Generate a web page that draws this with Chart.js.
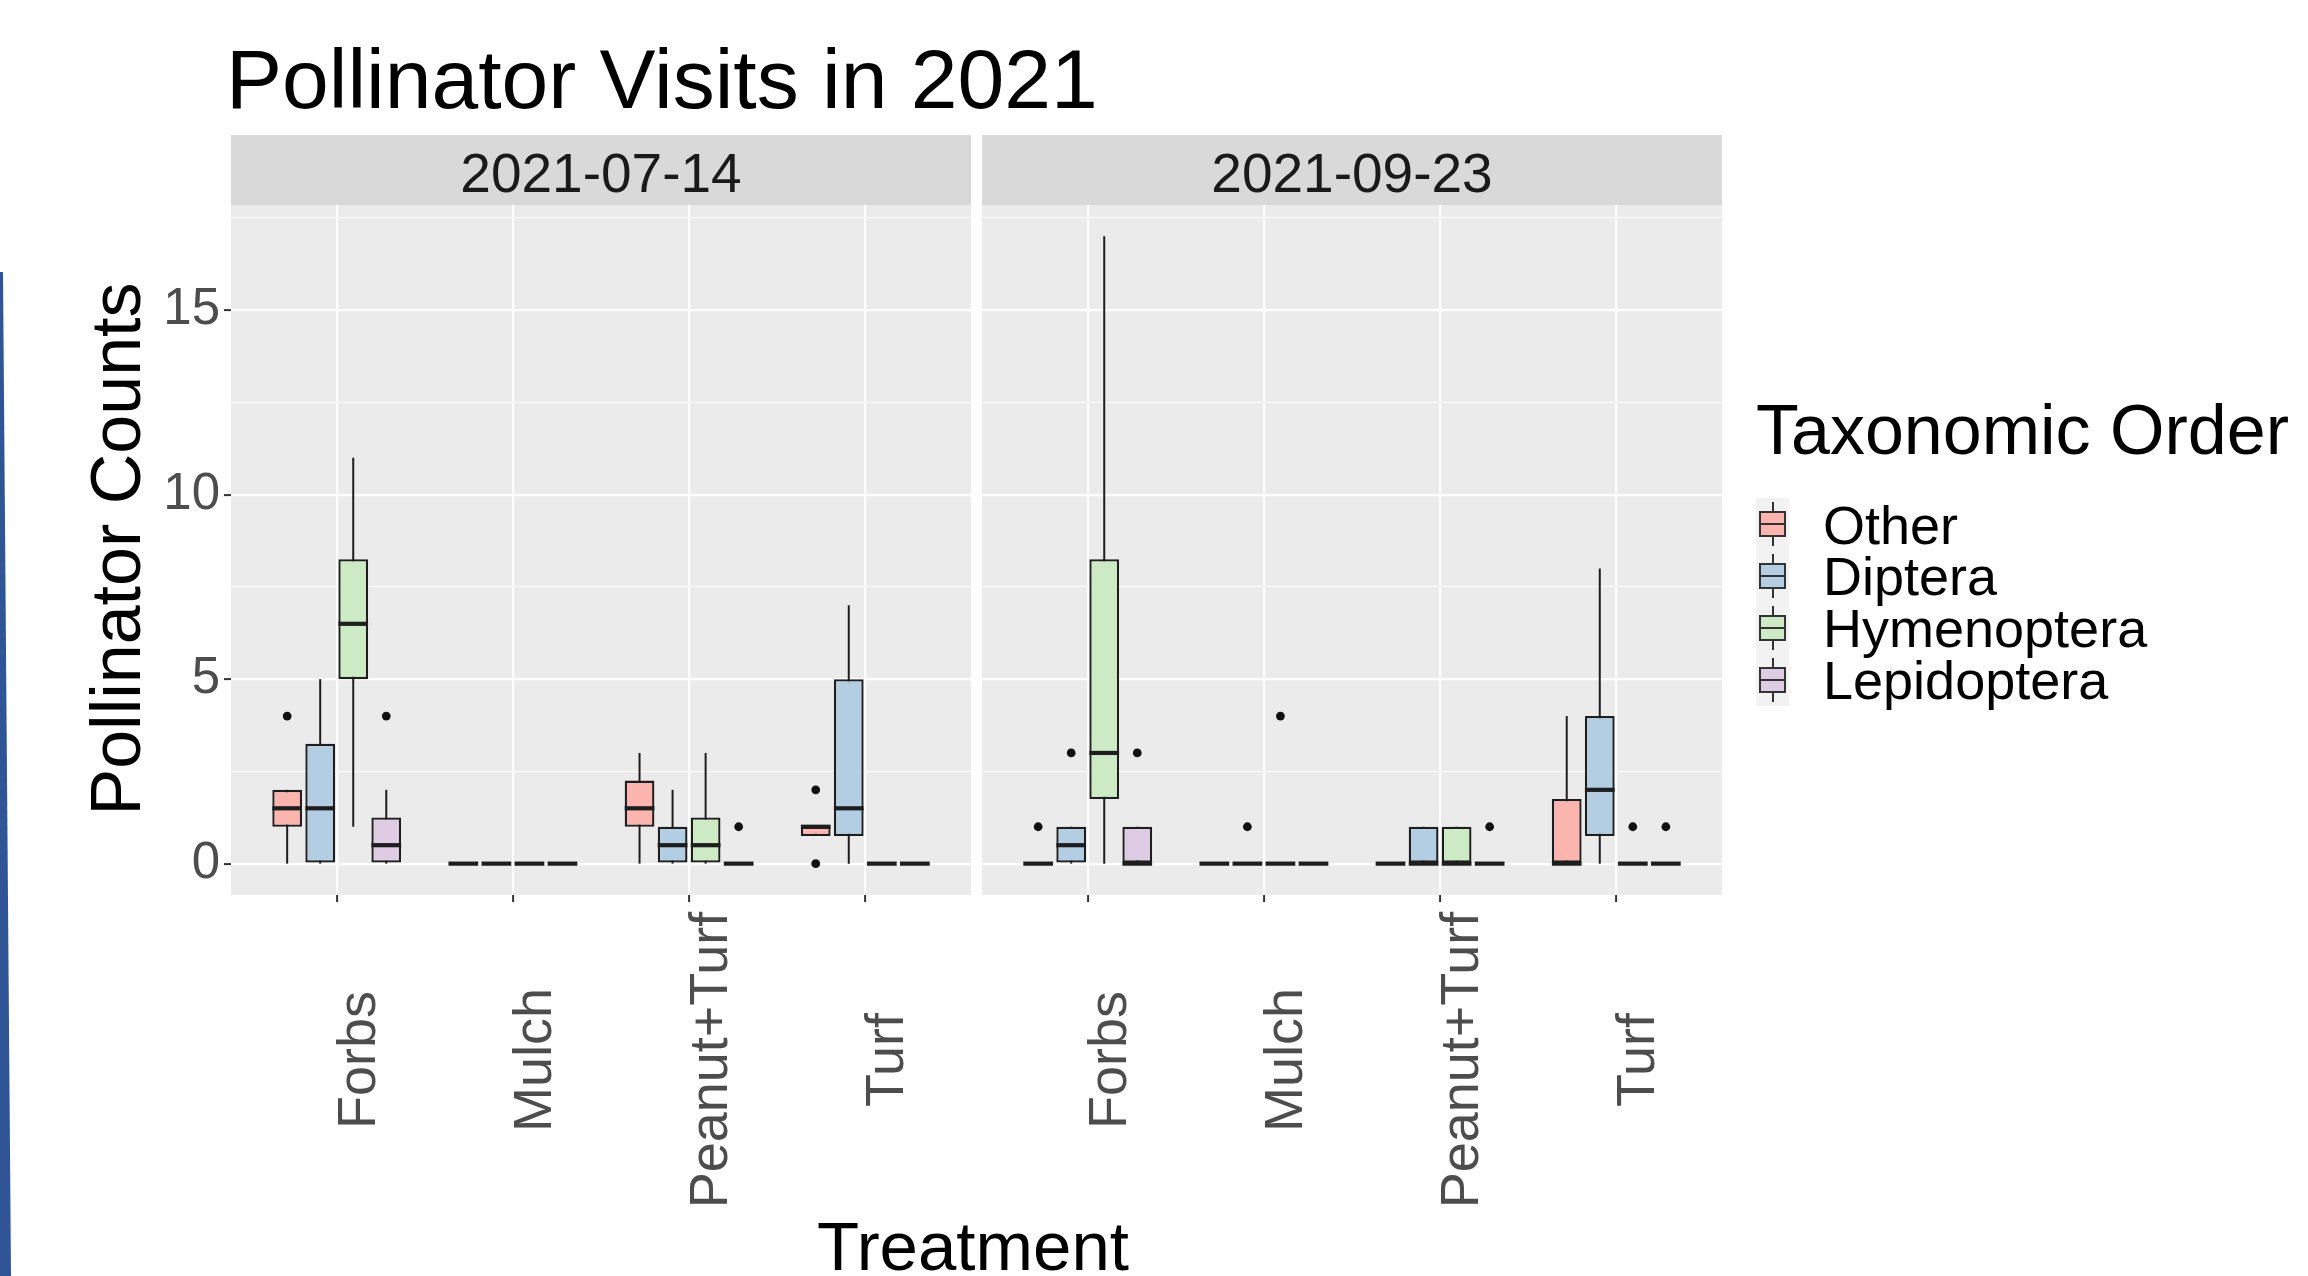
<!DOCTYPE html>
<html>
<head>
<meta charset="utf-8">
<script src="https://cdn.jsdelivr.net/npm/chart.js@4.4.1/dist/chart.umd.min.js"></script>
<style>
html,body{margin:0;padding:0;background:#ffffff;}
body{width:2308px;height:1276px;position:relative;overflow:hidden;font-family:"Liberation Sans",Arial,sans-serif;}
.abs{position:absolute;white-space:nowrap;}
#deco{position:absolute;left:0;top:272px;width:12px;height:1004px;background:#2F5597;clip-path:polygon(0 0,3px 0,11px 100%,0 100%);}
#title{left:226px;top:37px;font-size:84px;line-height:84px;color:#000;}
.strip{position:absolute;top:135px;height:70px;width:740px;background:#D9D9D9;text-align:center;font-size:55px;line-height:76px;color:#1A1A1A;overflow:visible;}
canvas{position:absolute;}
#ytitle{left:-234px;top:514px;width:700px;height:70px;font-size:70px;line-height:70px;text-align:center;color:#000;transform:rotate(-90deg);}
#xtitle{left:673px;top:1212px;width:600px;font-size:69px;line-height:69px;text-align:center;color:#000;}
#legtitle{left:1756px;top:395px;font-size:70px;line-height:70px;color:#000;}
.leglab{position:absolute;left:1823px;font-size:54px;line-height:54px;color:#000;white-space:nowrap;}
#keybg{position:absolute;left:1756px;top:498px;width:33px;height:208px;background:#F2F2F2;}
.key{position:absolute;left:1756px;width:33px;height:52px;}
.key .wh{position:absolute;left:15.5px;top:4px;width:2px;height:44px;background:#333;}
.key .bx{position:absolute;left:3px;top:13px;width:27px;height:26px;box-sizing:border-box;border:2px solid #333;}
.key .md{position:absolute;left:3px;top:25px;width:27px;height:2px;background:#333;}
</style>
</head>
<body>
<div id="deco"></div>
<div id="title" class="abs">Pollinator Visits in 2021</div>
<div class="strip" id="strip0" style="left:231px;"></div>
<div class="strip" id="strip1" style="left:982px;"></div>
<canvas id="c0" width="971" height="1025" style="left:0px;top:205px;width:971px;height:1025px;"></canvas>
<canvas id="c1" width="740" height="1025" style="left:982px;top:205px;width:740px;height:1025px;"></canvas>
<div id="ytitle" class="abs">Pollinator Counts</div>
<div id="xtitle" class="abs">Treatment</div>
<div id="legtitle" class="abs">Taxonomic Order</div>
<div id="keybg"></div>
<div id="legend"></div>
<script>
// ---------------- data ----------------
const treatments = ['Forbs', 'Mulch', 'Peanut+Turf', 'Turf'];
const taxa = ['Other', 'Diptera', 'Hymenoptera', 'Lepidoptera'];
const dates = ['2021-07-14', '2021-09-23'];
const yTicks = [0, 2.5, 5, 7.5, 10, 12.5, 15, 17.5];
const yMajorLabels = ['0', '5', '10', '15'];
const yRange = [-0.85, 17.85];

// five-number summaries per treatment: [min, q1, median, q3, max]
const julOther       = [[0, 1, 1.5, 2, 2],      [0, 0, 0, 0, 0], [0, 1, 1.5, 2.25, 3],  [0.75, 0.75, 1, 1, 1]];
const julDiptera     = [[0, 0, 1.5, 3.25, 5],   [0, 0, 0, 0, 0], [0, 0, 0.5, 1, 2],     [0, 0.75, 1.5, 5, 7]];
const julHymenoptera = [[1, 5, 6.5, 8.25, 11],  [0, 0, 0, 0, 0], [0, 0, 0.5, 1.25, 3],  [0, 0, 0, 0, 0]];
const julLepidoptera = [[0, 0, 0.5, 1.25, 2],   [0, 0, 0, 0, 0], [0, 0, 0, 0, 0],       [0, 0, 0, 0, 0]];

const sepOther       = [[0, 0, 0, 0, 0],        [0, 0, 0, 0, 0], [0, 0, 0, 0, 0],       [0, 0, 0, 1.75, 4]];
const sepDiptera     = [[0, 0, 0.5, 1, 1],      [0, 0, 0, 0, 0], [0, 0, 0, 1, 1],       [0, 0.75, 2, 4, 8]];
const sepHymenoptera = [[0, 1.75, 3, 8.25, 17], [0, 0, 0, 0, 0], [0, 0, 0, 1, 1],       [0, 0, 0, 0, 0]];
const sepLepidoptera = [[0, 0, 0, 1, 1],        [0, 0, 0, 0, 0], [0, 0, 0, 0, 0],       [0, 0, 0, 0, 0]];

// outliers per treatment
const julOtherOut       = [[4], [], [], [0, 2]];
const julDipteraOut     = [[], [], [], []];
const julHymenopteraOut = [[], [], [], []];
const julLepidopteraOut = [[4], [], [1], []];

const sepOtherOut       = [[1], [], [], []];
const sepDipteraOut     = [[3], [1], [], []];
const sepHymenopteraOut = [[], [4], [], [1]];
const sepLepidopteraOut = [[3], [], [1], [1]];

// ---------------- styles ----------------
const taxonColors = ['#FBB4AE', '#B3CDE3', '#CCEBC5', '#DECBE4'];
const LINE = '#1E1E1E';
const FONT = '"Liberation Sans", Arial, sans-serif';
const Y_AXIS_W = 231;
const X_AXIS_H = 335;

// strips & legend text
document.getElementById('strip0').textContent = dates[0];
document.getElementById('strip1').textContent = dates[1];
const legend = document.getElementById('legend');
taxa.forEach((name, k) => {
  const rowTop = 498 + k * 52;
  const key = document.createElement('div');
  key.className = 'key';
  key.style.top = rowTop + 'px';
  key.innerHTML = '<div class="wh"></div><div class="bx" style="background:' + taxonColors[k] + '"></div><div class="md"></div>';
  legend.appendChild(key);
  const lab = document.createElement('div');
  lab.className = 'leglab';
  lab.style.top = (497.5 + k * 51.7) + 'px';
  lab.textContent = name;
  legend.appendChild(lab);
});

const panelPlugin = {
  id: 'panelBox',
  beforeDraw(chart) {
    const a = chart.chartArea;
    const ctx = chart.ctx;
    ctx.save();
    ctx.fillStyle = '#EBEBEB';
    ctx.fillRect(a.left, a.top, a.right - a.left, a.bottom - a.top);
    ctx.restore();
  },
  beforeDatasetsDraw(chart) {
    const ctx = chart.ctx, ys = chart.scales.y;
    ctx.save();
    ctx.strokeStyle = LINE;
    ctx.lineWidth = 2;
    chart.data.datasets.forEach((ds, d) => {
      const meta = chart.getDatasetMeta(d);
      meta.data.forEach((el, i) => {
        const s = ds.stats[i];
        if (s[4] > s[0]) {
          ctx.beginPath();
          ctx.moveTo(el.x, ys.getPixelForValue(s[0]));
          ctx.lineTo(el.x, ys.getPixelForValue(s[4]));
          ctx.stroke();
        }
      });
    });
    ctx.restore();
  },
  afterDatasetsDraw(chart) {
    const ctx = chart.ctx, ys = chart.scales.y, xs = chart.scales.x;
    ctx.save();
    chart.data.datasets.forEach((ds, d) => {
      const meta = chart.getDatasetMeta(d);
      meta.data.forEach((el, i) => {
        const s = ds.stats[i];
        const half = el.width / 2;
        const ym = ys.getPixelForValue(s[2]);
        ctx.strokeStyle = LINE;
        ctx.lineWidth = 4.2;
        ctx.lineCap = 'butt';
        ctx.beginPath();
        ctx.moveTo(el.x - half, ym);
        ctx.lineTo(el.x + half, ym);
        ctx.stroke();
        ctx.fillStyle = '#111111';
        ds.outliers[i].forEach(v => {
          ctx.beginPath();
          ctx.arc(el.x, ys.getPixelForValue(v), 4.4, 0, Math.PI * 2);
          ctx.fill();
        });
      });
    });
    // x tick labels, rotated and centred
    ctx.fillStyle = '#4D4D4D';
    ctx.font = '54px ' + FONT;
    ctx.textAlign = 'center';
    ctx.textBaseline = 'alphabetic';
    treatments.forEach((t, i) => {
      const x = xs.getPixelForValue(i + 1);
      ctx.save();
      ctx.translate(x + 38, chart.chartArea.bottom + 165);
      ctx.rotate(-Math.PI / 2);
      ctx.fillText(t, 0, 0);
      ctx.restore();
    });
    ctx.restore();
  }
};

function makeChart(id, stats, outs, showY) {
  const datasets = taxa.map((name, k) => ({
    label: name,
    data: stats[k].map((s, i) => ({ x: i + 1, y: [s[1], s[3]] })),
    stats: stats[k],
    outliers: outs[k],
    backgroundColor: taxonColors[k],
    borderColor: LINE,
    borderWidth: 2.3,
    borderSkipped: false,
    categoryPercentage: 0.75,
    barPercentage: 0.9
  }));
  return new Chart(document.getElementById(id), {
    type: 'bar',
    data: { datasets },
    options: {
      responsive: false,
      animation: false,
      devicePixelRatio: 1,
      layout: { padding: 0 },
      plugins: { legend: { display: false }, tooltip: { enabled: false }, title: { display: false } },
      scales: {
        x: {
          type: 'linear',
          min: 0.4,
          max: 4.6,
          offset: false,
          afterBuildTicks: s => { s.ticks = treatments.map((t, i) => ({ value: i + 1 })); },
          afterFit: s => { s.height = X_AXIS_H; s.paddingLeft = 0; s.paddingRight = 0; },
          ticks: { display: false },
          grid: { offset: false, color: '#FFFFFF', lineWidth: 2.2, drawTicks: true, tickLength: 7, tickWidth: 2, tickColor: '#333333' },
          border: { display: false }
        },
        y: {
          type: 'linear',
          min: yRange[0],
          max: yRange[1],
          stacked: false,
          beginAtZero: false,
          afterBuildTicks: s => { s.ticks = yTicks.map(v => ({ value: v })); },
          afterFit: s => { s.width = showY ? Y_AXIS_W : 0; s.paddingTop = 0; s.paddingBottom = 0; },
          ticks: {
            display: showY,
            autoSkip: false,
            padding: 4,
            color: '#4D4D4D',
            font: { family: FONT, size: 51 },
            callback: v => yMajorLabels.includes(String(v)) ? String(v) : ''
          },
          grid: {
            color: '#FFFFFF',
            lineWidth: c => (c.tick && c.tick.value % 5 === 0) ? 2.2 : 1.1,
            drawTicks: showY,
            tickLength: 7,
            tickWidth: 2,
            tickColor: c => (c.tick && c.tick.value % 5 === 0) ? '#333333' : 'rgba(0,0,0,0)'
          },
          border: { display: false }
        }
      }
    },
    plugins: [panelPlugin]
  });
}

makeChart('c0',
  [julOther, julDiptera, julHymenoptera, julLepidoptera],
  [julOtherOut, julDipteraOut, julHymenopteraOut, julLepidopteraOut], true);
makeChart('c1',
  [sepOther, sepDiptera, sepHymenoptera, sepLepidoptera],
  [sepOtherOut, sepDipteraOut, sepHymenopteraOut, sepLepidopteraOut], false);
</script>
</body>
</html>
